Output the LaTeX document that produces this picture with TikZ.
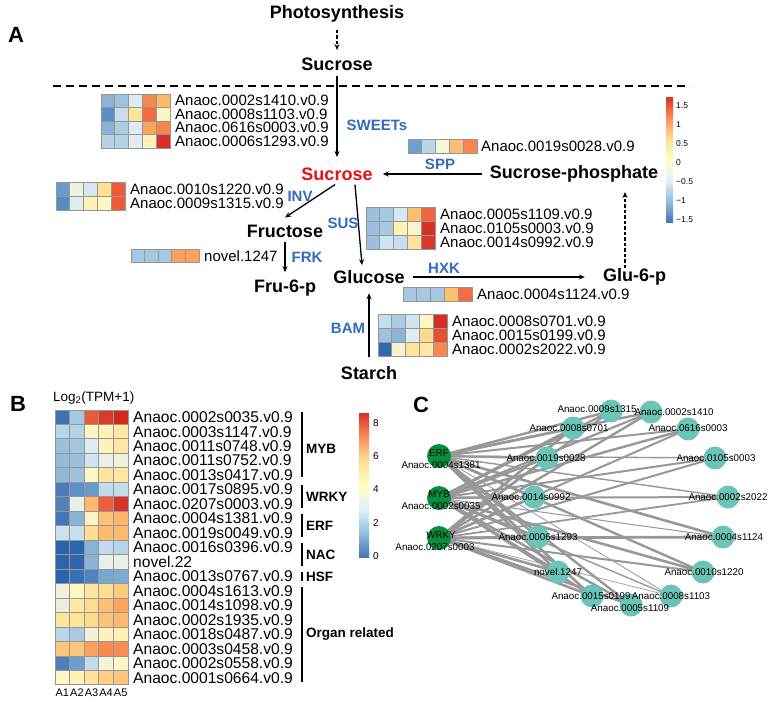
\documentclass[tikz,border=0pt]{standalone}
\usepackage{fontspec}
\setmainfont{Liberation Sans}
\usetikzlibrary{arrows.meta}
\definecolor{lblue}{RGB}{50,108,190}
\definecolor{sred}{RGB}{232,16,24}
\definecolor{gridc}{RGB}{150,150,150}
\definecolor{edgec}{RGB}{152,152,152}
\definecolor{tfc}{RGB}{8,143,62}
\definecolor{tgc}{RGB}{108,196,182}
\definecolor{cb1}{HTML}{4575B4}
\definecolor{cb2}{HTML}{91BFDB}
\definecolor{cb3}{HTML}{E0F3F8}
\definecolor{cb4}{HTML}{FFFFBF}
\definecolor{cb5}{HTML}{FEE090}
\definecolor{cb6}{HTML}{FC8D59}
\definecolor{cb7}{HTML}{D73027}
\pgfdeclareverticalshading{rdylbu}{100bp}{color(0bp)=(cb1); color(25bp)=(cb1); color(33.33bp)=(cb2); color(41.67bp)=(cb3); color(50bp)=(cb4); color(58.33bp)=(cb5); color(66.67bp)=(cb6); color(75bp)=(cb7); color(100bp)=(cb7)}
\pgfdeclarelayer{bg}
\pgfsetlayers{bg,main}
\newcommand\heat[5]{%
  \foreach \rw [count=\r from 0] in {#5}{%
    \foreach \cc [count=\i from 0] in \rw {%
      \edef\tmpdef{\noexpand\definecolor{hc}{HTML}{\cc}}\tmpdef
      \filldraw[fill=hc, draw=gridc, line width=0.9pt] ({#1+\i*#3},{#2+\r*#4}) rectangle ++(#3,#4);
    }}}
\tikzset{
  gl/.style={anchor=west, inner sep=0pt, font=\fontsize{15}{15}\selectfont},
  glb/.style={anchor=west, inner sep=0pt, font=\fontsize{15.6}{15}\selectfont},
  met/.style={inner sep=0pt, font=\fontsize{18}{18}\selectfont\bfseries},
  enz/.style={inner sep=0pt, text=lblue, font=\fontsize{15}{15}\selectfont\bfseries},
  arr/.style={-{Stealth[length=6pt,width=5pt]}, line width=1.3pt},
  darr/.style={arr, dash pattern=on 3.5pt off 2pt},
  panel/.style={inner sep=0pt, font=\fontsize{22}{22}\selectfont\bfseries},
  grp/.style={anchor=west, inner sep=0pt, font=\fontsize{13.5}{14}\selectfont\bfseries},
  brk/.style={line width=1.8pt},
  cbl/.style={anchor=west, inner sep=0pt, font=\fontsize{8.5}{9}\selectfont},
  cblb/.style={anchor=west, inner sep=0pt, font=\fontsize{10}{10}\selectfont},
  tf/.style={circle, fill=tfc, minimum size=24pt, inner sep=0pt},
  tg/.style={circle, fill=tgc, minimum size=23pt, inner sep=0pt},
  nl/.style={inner sep=0pt, font=\fontsize{9.8}{10}\selectfont},
  ed/.style={draw=edgec},
}
\begin{document}
\begin{tikzpicture}[x=1pt,y=-1pt]
\useasboundingbox (0,0) rectangle (773,707);
\begin{pgfonlayer}{bg}
\fill[white] (0,0) rectangle (773,707);
\end{pgfonlayer}

% ---------------- Panel A ----------------
\node[panel] (pA) at (16,35) {A};
\node[met] (photo) at (337,14) {Photosynthesis};
\node[met] (suc0) at (337,64) {Sucrose};
\draw[darr, shorten <=7pt, shorten >=7.4pt] (photo.south) -- (suc0.north);
\coordinate (dl) at (53,86);
\coordinate (dr) at (690,86);
\draw[line width=1.8pt, dash pattern=on 8pt off 5pt] (dl) -- (dr);

\node[met, text=sred] (suc) at (337,174) {Sucrose};
\node[met] (sp) at (574,174) {Sucrose-phosphate};
\node[met] (fru) at (285,231) {Fructose};
\node[met] (fru6) at (285,288) {Fru-6-p};
\node[met] (glc) at (369,277) {Glucose};
\node[met] (glu6) at (634.5,277) {Glu-6-p};
\node[met] (starch) at (369,373) {Starch};

\draw[arr, shorten <=5pt, shorten >=10.4pt] (suc0.south) -- (suc.north);
\draw[arr, shorten <=8pt, shorten >=10pt] (sp.west) -- (suc.east);
\draw[arr] ([xshift=-2pt,yshift=-4pt]suc.south) -- ([yshift=7pt]fru.north);
\draw[arr] ([xshift=18pt,yshift=-4pt]suc.south) -- ([xshift=-7pt,yshift=5pt]glc.north);
\draw[arr, shorten <=4.4pt, shorten >=7.5pt] (fru.south) -- (fru6.north);
\draw[arr, shorten <=8pt, shorten >=18pt] (glc.east) -- (glu6.west);
\draw[arr, shorten <=9.4pt, shorten >=9.4pt] (starch.north) -- (glc.south);
\draw[darr, shorten >=9.4pt] ([xshift=-9.5pt]glu6.north) -- ([xshift=51pt]sp.south);

\node[enz] (sweets) at (377,125) {SWEETs};
\node[enz] (spp) at (440,164) {SPP};
\node[enz] (inv) at (300,196) {INV};
\node[enz] (sus) at (343,223) {SUS};
\node[enz] (frk) at (307,257) {FRK};
\node[enz] (hxk) at (444,268) {HXK};
\node[enz] (bam) at (348,328) {BAM};

% heatmaps A
\heat{101}{94}{13.8}{13.5}{{8DB4D8,9EC3DE,DCEBF2,F5884F,FDB96A},{5B8EC4,C6DEEE,FEE39A,F26B43,FFF5BF},{88B2D7,AECDE2,DCEBF2,FCA55D,F7864E},{B5D3E6,B5D3E6,E0ECF1,FFF2B8,D73027}}
\foreach \t [count=\k from 0] in {Anaoc.0002s1410.v0.9,Anaoc.0008s1103.v0.9,Anaoc.0616s0003.v0.9,Anaoc.0006s1293.v0.9}
  \node[gl] (sw\k) at (175,{100.75+13.5*\k}) {\t};

\heat{56}{182}{13.8}{14}{{6A9BCB,EEF3DE,D4E8F1,FEE08F,EE5B3A},{5A8CC4,DDEFEA,FFF2B0,FFF6C0,EE5B3A}}
\foreach \t [count=\k from 0] in {Anaoc.0010s1220.v0.9,Anaoc.0009s1315.v0.9}
  \node[gl] (iv\k) at (130,{189+14*\k}) {\t};

\heat{131}{249}{13.6}{13.5}{{A6C8E0,A6C8E0,A6C8E0,FBA05E,FBA05E}}
\node[gl] (fk0) at (204,256) {novel.1247};

\heat{408}{139}{13.8}{14}{{6FA0CD,B8D6E8,F4F6D6,FDBE74,F98650}}
\node[gl] (sp0) at (481,146.5) {Anaoc.0019s0028.v0.9};

\heat{366}{207}{13.8}{14}{{9CC0DE,A6C8E0,D6E9F3,FDBE70,F0643E},{9CC0DE,A9C9E2,FFF2B0,FBF4CC,D73027},{9CC0DE,CFE4F0,C7DEEE,FEE39A,D63A2D}}
\foreach \t [count=\k from 0] in {Anaoc.0005s1109.v0.9,Anaoc.0105s0003.v0.9,Anaoc.0014s0992.v0.9}
  \node[gl] (ss\k) at (440,{214+14*\k}) {\t};

\heat{403}{287}{13.8}{14}{{A6C8E0,A6C8E0,A6C8E0,FDBE70,F36D42}}
\node[gl] (hx0) at (477,294) {Anaoc.0004s1124.v0.9};

\heat{378}{314}{13.8}{14}{{C5DDEE,ABCBE3,D1E5F0,FFF7C2,D42D24},{9EC2DD,8DB5D6,DDEDF1,FEDB8B,E4512F},{2F6AB0,F5F4CE,FEE49B,FEE8A4,F98850}}
\foreach \t [count=\k from 0] in {Anaoc.0008s0701.v0.9,Anaoc.0015s0199.v0.9,Anaoc.0002s2022.v0.9}
  \node[gl] (bm\k) at (452,{321+14*\k}) {\t};

% colour bar A
\shade[shading=rdylbu] (666,97) rectangle (673,222);
\foreach \v/\yy [count=\k] in {1.5/106,1/125,0.5/144,0/163,−0.5/182,−1/201,−1.5/220}
  \node[cbl] (ca\k) at (676,\yy) {\v};

% ---------------- Panel B ----------------
\node[panel] (pB) at (18,404) {B};
\node[anchor=west, inner sep=0pt, font=\fontsize{13.5}{14}\selectfont] (logl) at (53,398) {Log\textsubscript{2}(TPM+1)};
\heat{55}{410}{14.6}{14.47}{{3D70B5,A6C8E0,E75A3A,DA3A2B,D0271F},{B7D5E8,B5D3E6,FFF5C0,FFF1B3,FEE8A3},{9BC0DE,A3C6E0,DBECF3,FEF3BB,FEE7A0},{93BBDA,9CC1DD,D1E6F1,E9F2E6,EDF2DC},{8FB9D9,9EC2DE,FFF6C4,FEE39A,FEE7A0},{4A7CBA,5E8FC5,6A9ACB,C1DCEB,C4DDEC},{5283BF,E4EFEA,FDB66A,EE5E3C,D63328},{4376B8,8AB4D6,FFF4BF,FDC478,FDB56A},{CBE1EF,C6DEEE,FEDE8F,FDBB6E,FDBA6D},{2A63AD,2C64AE,89B2D5,C2DCEC,B7D5E8},{2C64AE,2E66AF,8BB3D5,E5F0EF,E8F1E8},{2A63AD,3A6EB5,5282BF,79A7D0,7EABD2},{F1F1DB,FFF6C2,FEE6A0,FEDE90,FDCB7E},{EAEFDD,FEE9A4,FEDC8E,FDC074,FCA55D},{FEE59D,FEE39B,FEDB8C,FDC177,FDB96D},{BAD7E9,A9CAE1,F0F2DA,FFF3BB,FFF1B3},{FDC57B,FDC67B,FCA05E,F88A50,F88D52},{4F80BD,6E9FCC,C3DDEC,F3F4D5,FFF6C8},{FFF7C6,FFF3BA,FEE39A,FDCE84,FDC67A}}
\foreach \t [count=\k from 0] in {Anaoc.0002s0035.v0.9,Anaoc.0003s1147.v0.9,Anaoc.0011s0748.v0.9,Anaoc.0011s0752.v0.9,Anaoc.0013s0417.v0.9,Anaoc.0017s0895.v0.9,Anaoc.0207s0003.v0.9,Anaoc.0004s1381.v0.9,Anaoc.0019s0049.v0.9,Anaoc.0016s0396.v0.9,novel.22,Anaoc.0013s0767.v0.9,Anaoc.0004s1613.v0.9,Anaoc.0014s1098.v0.9,Anaoc.0002s1935.v0.9,Anaoc.0018s0487.v0.9,Anaoc.0003s0458.v0.9,Anaoc.0002s0558.v0.9,Anaoc.0001s0664.v0.9}
  \node[glb] (bl\k) at (133,{417.2+14.47*\k}) {\t};
\foreach \t [count=\k from 0] in {A1,A2,A3,A4,A5}
  \node[inner sep=0pt, font=\fontsize{11}{11}\selectfont] (ax\k) at ({62.3+14.6*\k},693) {\t};

\draw[brk] (302,412) -- (302,477);
\draw[brk] (302,485) -- (302,508);
\draw[brk] (302,514) -- (302,537);
\draw[brk] (302,543) -- (302,566);
\draw[brk] (302,572) -- (302,581);
\draw[brk] (302,587) -- (302,682);
\node[grp] (gmyb) at (306,449) {MYB};
\node[grp] (gwrky) at (306,497) {WRKY};
\node[grp] (gerf) at (306,526) {ERF};
\node[grp] (gnac) at (306,555) {NAC};
\node[grp] (ghsf) at (306,577) {HSF};
\node[grp] (gorg) at (306,634) {Organ related};

% colour bar B
\shade[shading=rdylbu] (359,413) rectangle (369,557);
\foreach \v/\yy [count=\k] in {8/423,6/456,4/489,2/523,0/556}
  \node[cblb] (cbb\k) at (373,\yy) {\v};

% ---------------- Panel C ----------------
\node[panel] (pC) at (421,405) {C};
\node[tf] (erf) at (439,456) {};
\node[tf] (myb) at (439,498) {};
\node[tf] (wrky) at (439,538) {};
\node[tg] (n1315) at (611,411) {};
\node[tg] (n1410) at (651,412) {};
\node[tg] (n0701) at (573,428) {};
\node[tg] (n0616) at (688,429) {};
\node[tg] (n0028) at (547,458) {};
\node[tg] (n0105) at (715,458) {};
\node[tg] (n0992) at (534,497) {};
\node[tg] (n2022) at (728,497) {};
\node[tg] (n1293) at (538,537) {};
\node[tg] (n1124) at (723,537) {};
\node[tg] (n1247) at (558,572) {};
\node[tg] (n1220) at (703,572) {};
\node[tg] (n0199) at (592,596) {};
\node[tg] (n1103) at (671,596) {};
\node[tg] (n1109) at (631,605) {};

\begin{pgfonlayer}{bg}
\foreach \n/\w in {n1315/2.4,n1410/2.4,n0701/2.6,n0616/2.0,n0028/2.4,n0105/1.4,n0992/2.4,n2022/1.4,n1293/2.4,n1124/2.6,n1247/2.6,n1220/2.4,n0199/2.6,n1103/0.8,n1109/2.4}
  \draw[ed, line width=\w pt] (erf.center) -- (\n.center);
\foreach \n/\w in {n1315/2.4,n1410/2.2,n0701/2.4,n0616/2.4,n0028/2.6,n0105/2.0,n0992/2.6,n2022/2.0,n1293/2.4,n1124/1.0,n1247/2.6,n1220/2.6,n0199/2.4,n1103/1.4,n1109/2.4}
  \draw[ed, line width=\w pt] (myb.center) -- (\n.center);
\foreach \n/\w in {n1315/2.2,n1410/2.4,n0701/2.6,n0616/2.0,n0028/2.6,n0105/2.0,n0992/2.6,n2022/1.8,n1293/2.6,n1124/2.8,n1247/2.6,n1220/2.0,n0199/2.6,n1103/0.7,n1109/2.4}
  \draw[ed, line width=\w pt] (wrky.center) -- (\n.center);
\end{pgfonlayer}

\node[nl] (lerf) at (439,453) {ERF};
\node[nl] (lerf2) at (441,465) {Anaoc.0004s1381};
\node[nl] (lmyb) at (439,494) {MYB};
\node[nl] (lmyb2) at (441,506) {Anaoc.0002s0035};
\node[nl] (lwrky) at (441,535) {WRKY};
\node[nl] (lwrky2) at (435,547) {Anaoc.0207s0003};
\node[nl] (l1315) at (597,409) {Anaoc.0009s1315};
\node[nl] (l1410) at (674,412) {Anaoc.0002s1410};
\node[nl] (l0701) at (569,428) {Anaoc.0008s0701};
\node[nl] (l0616) at (688,428) {Anaoc.0616s0003};
\node[nl] (l0028) at (546,458) {Anaoc.0019s0028};
\node[nl] (l0105) at (716,458) {Anaoc.0105s0003};
\node[nl] (l0992) at (531,497) {Anaoc.0014s0992};
\node[nl] (l2022) at (728,497) {Anaoc.0002s2022};
\node[nl] (l1293) at (538,537) {Anaoc.0006s1293};
\node[nl] (l1124) at (724,537) {Anaoc.0004s1124};
\node[nl] (l1247) at (558,572) {novel.1247};
\node[nl] (l1220) at (704,572) {Anaoc.0010s1220};
\node[nl] (l0199) at (591,596) {Anaoc.0015s0199};
\node[nl] (l1103) at (671,596) {Anaoc.0008s1103};
\node[nl] (l1109) at (630,608) {Anaoc.0005s1109};
\end{tikzpicture}
\end{document}
